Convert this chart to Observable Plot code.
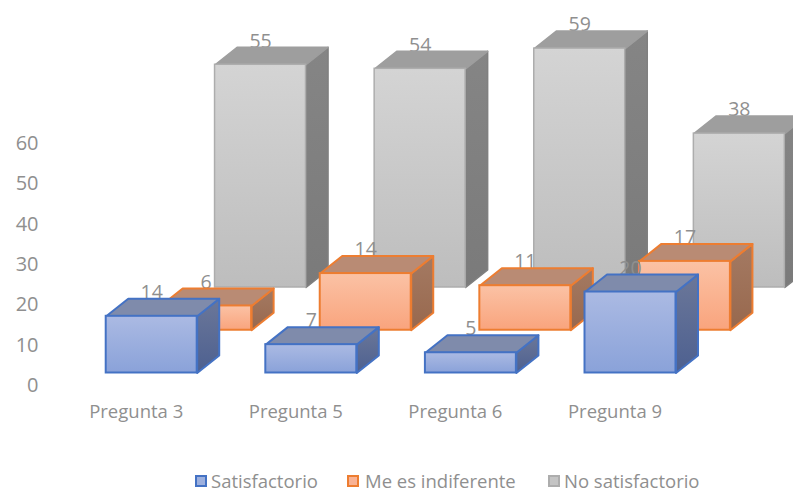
<!DOCTYPE html>
<html><head><meta charset="utf-8">
<script src="https://cdn.jsdelivr.net/npm/d3@7"></script>
<script src="https://cdn.jsdelivr.net/npm/@observablehq/plot@0.6"></script>
<style>
html,body{margin:0;padding:0;background:#fff;overflow:hidden}
#chart{width:793px;height:472px}
#chart svg{display:block;overflow:visible}
#legend{position:relative;height:17px;font:18.5px "Open Sans",sans-serif;color:#8f8f8f}
#legend div{position:absolute;top:0;line-height:17px;white-space:nowrap}
#legend i{position:absolute;top:3px;width:8px;height:8px;border:2px solid;display:block}
</style></head><body>
<div id="chart"></div>
<div id="legend"></div>
<script>
const categories = ["Pregunta 3","Pregunta 5","Pregunta 6","Pregunta 9"];
const seriesNames = ["Satisfactorio","Me es indiferente","No satisfactorio"];
const satisfactorio = [14,7,5,20];
const indiferente = [6,14,11,17];
const noSatisfactorio = [55,54,59,38];
const yTicks = [0,10,20,30,40,50,60];

const values = [satisfactorio, indiferente, noSatisfactorio];
const looks = [
  {id:"a",stroke:"#4472c4",topStroke:"#4472c4",sideStroke:"#4472c4",w:2,front:["#abbae3","#8aa2d9"],top:"#7f8bab",side:["#6b7799","#4d6090"],swatch:"#9db0de",legendX:195,textX:211},
  {id:"b",stroke:"#ed7d31",topStroke:"#ed7d31",sideStroke:"#ed7d31",w:2,front:["#fbc2a5","#f9a47d"],top:"#b98b74",side:["#a47a63","#98684d"],swatch:"#f9b294",legendX:347,textX:365},
  {id:"c",stroke:"#adadad",topStroke:"#9e9e9e",sideStroke:"#808080",w:1.5,front:["#d4d4d4","#bdbdbd"],top:"#9e9e9e",side:["#858585","#7a7a7a"],swatch:"#c4c4c4",legendX:548,textX:564}
];
// oblique projection, in data units of the x and y scales
const barW = 0.57, shiftX = 0.341, depthX = 0.138;
const lift = 3.1, shiftY = 10.6, depthY = 4.34, k = 1.004;

function defs(){
  const d = d3.create("svg:defs");
  const add = (id,[c0,c1]) => {
    const g = d.append("linearGradient").attr("id",id).attr("x1",0).attr("x2",0).attr("y1",0).attr("y2",1);
    g.append("stop").attr("offset","0%").attr("stop-color",c0);
    g.append("stop").attr("offset","100%").attr("stop-color",c1);
  };
  looks.forEach(l => {add("front"+l.id,l.front); add("side"+l.id,l.side);});
  return d.node();
}

function seriesMarks(s){
  const l = looks[s];
  const boxes = values[s].map((v,i)=>{
    const x1 = i + s*shiftX - barW/2, x2 = x1 + barW;
    const y1 = lift + s*shiftY, y2 = y1 + v*k;
    return {i,v,x1,x2,y1,y2};
  });
  const top = boxes.flatMap(b=>[[b.x1,b.y2],[b.x1+depthX,b.y2+depthY],[b.x2+depthX,b.y2+depthY],[b.x2,b.y2],[b.x1,b.y2]].map(([x,y])=>({x,y,z:b.i})));
  const side = boxes.flatMap(b=>[[b.x2,b.y1],[b.x2+depthX,b.y1+depthY],[b.x2+depthX,b.y2+depthY],[b.x2,b.y2],[b.x2,b.y1]].map(([x,y])=>({x,y,z:b.i})));
  const common = {x:"x",y:"y",z:"z",strokeWidth:l.w,strokeLinejoin:"round",curve:"linear"};
  return [
    Plot.text(boxes,{x:b=>(b.x1+b.x2)/2,y:b=>b.y2+depthY,text:b=>String(b.v),dy:-6,fill:"#8f8f8f",fontSize:19.5,fontFamily:"Open Sans"}),
    Plot.line(side,{...common,stroke:l.sideStroke,fill:"url(#side"+l.id+")"}),
    Plot.line(top,{...common,stroke:l.topStroke,fill:l.top}),
    Plot.rect(boxes,{x1:"x1",x2:"x2",y1:"y1",y2:"y2",fill:"url(#front"+l.id+")",stroke:l.stroke,strokeWidth:l.w})
  ];
}

const plot = Plot.plot({
  width:793,height:472,
  marginLeft:38,marginBottom:87,marginTop:0,marginRight:0,
  style:{background:"#fff",fontFamily:"Open Sans"},
  x:{domain:[0,3],range:[151.2,630],axis:null},
  y:{domain:[0,60],range:[385,143],axis:null},
  marks:[
    defs,
    Plot.axisY({ticks:yTicks,tickSize:0,tickPadding:0,label:null,fontSize:20,color:"#8f8f8f",fontFamily:"Open Sans"}),
    Plot.axisX({ticks:[0,1,2,3],tickFormat:i=>categories[i],tickSize:0,tickPadding:19,label:null,dx:-15.5,fontSize:18.5,color:"#8f8f8f",fontFamily:"Open Sans"}),
    ...[2,1,0].flatMap(seriesMarks)
  ]
});
document.getElementById("chart").append(plot);

const legend = document.getElementById("legend");
seriesNames.forEach((n,s)=>{
  const l = looks[s];
  const sw = document.createElement("i");
  sw.style.cssText=`left:${l.legendX}px;background:${l.swatch};border-color:${l.stroke}`;
  const t = document.createElement("div");
  t.style.left=l.textX+"px"; t.textContent=n;
  legend.append(sw,t);
});
</script>
</body></html>
